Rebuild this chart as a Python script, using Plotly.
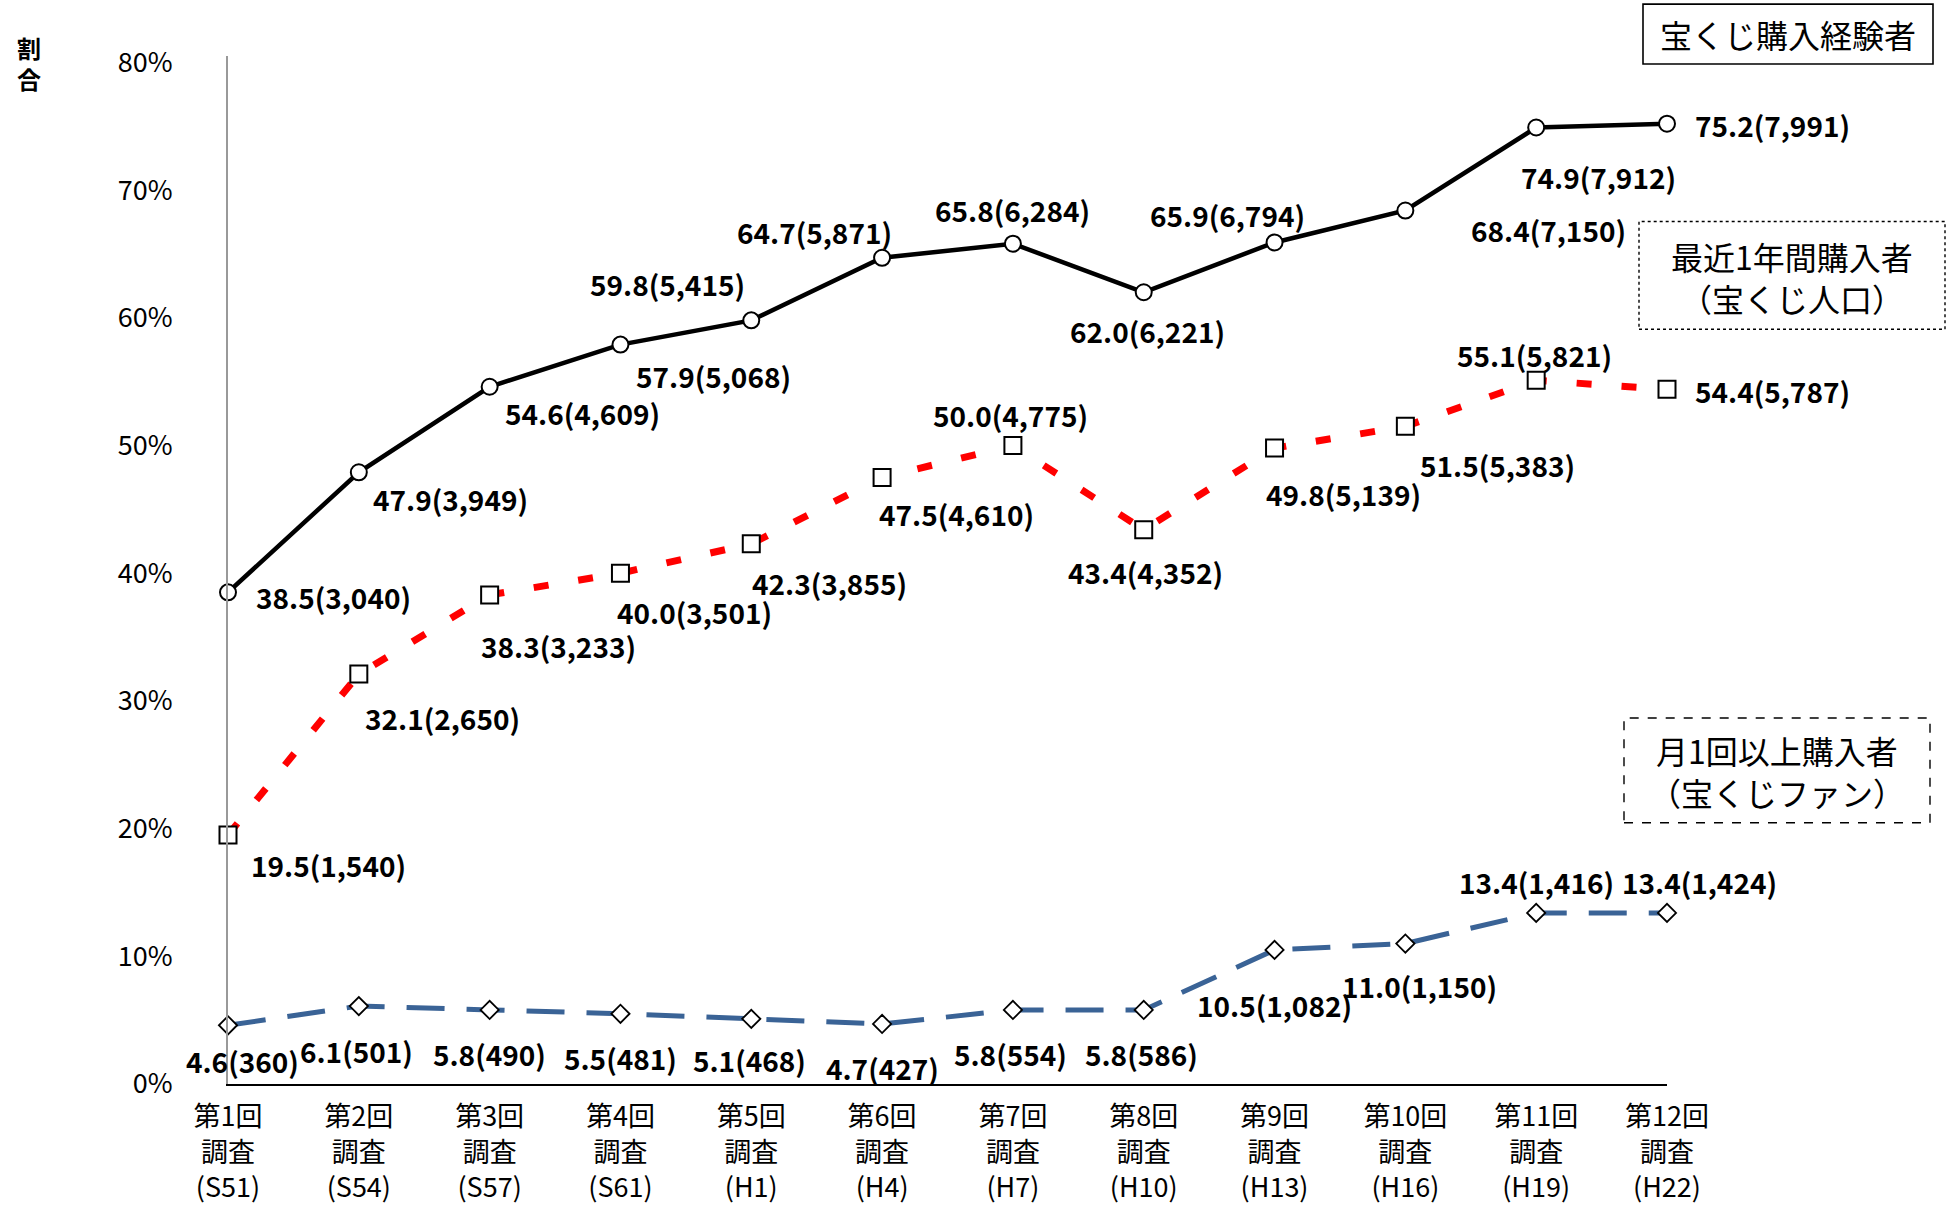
import plotly.graph_objects as go

# ---------------- data ----------------
surveys = ["第1回<br>調査<br>(S51)", "第2回<br>調査<br>(S54)", "第3回<br>調査<br>(S57)", "第4回<br>調査<br>(S61)",
           "第5回<br>調査<br>(H1)", "第6回<br>調査<br>(H4)", "第7回<br>調査<br>(H7)", "第8回<br>調査<br>(H10)",
           "第9回<br>調査<br>(H13)", "第10回<br>調査<br>(H16)", "第11回<br>調査<br>(H19)", "第12回<br>調査<br>(H22)"]

experience_pct = [38.5, 47.9, 54.6, 57.9, 59.8, 64.7, 65.8, 62.0, 65.9, 68.4, 74.9, 75.2]
experience_n = ["3,040", "3,949", "4,609", "5,068", "5,415", "5,871", "6,284", "6,221", "6,794", "7,150", "7,912", "7,991"]

recent_pct = [19.5, 32.1, 38.3, 40.0, 42.3, 47.5, 50.0, 43.4, 49.8, 51.5, 55.1, 54.4]
recent_n = ["1,540", "2,650", "3,233", "3,501", "3,855", "4,610", "4,775", "4,352", "5,139", "5,383", "5,821", "5,787"]

monthly_pct = [4.6, 6.1, 5.8, 5.5, 5.1, 4.7, 5.8, 5.8, 10.5, 11.0, 13.4, 13.4]
monthly_n = ["360", "501", "490", "481", "468", "427", "554", "586", "1,082", "1,150", "1,416", "1,424"]

y_ticks = [0, 10, 20, 30, 40, 50, 60, 70, 80]
y_tick_text = ["0%", "10%", "20%", "30%", "40%", "50%", "60%", "70%", "80%"]
y_title = "割<br>合"

legend_names = [["宝くじ購入経験者"],
                ["最近1年間購入者", "（宝くじ人口）"],
                ["月1回以上購入者", "（宝くじファン）"]]

# ---------------- label offsets (pixels, style only) ----------------
exp_dx = [105, 92, 93, 93, -84, -68, 0, 4, -47, 143, 62, 105]
exp_dy = [5, 27, 26, 31, -36, -26, -34, 39, -27, 19, 49, 1]
rec_dx = [100, 84, 69, 74, 78, 74, -2, 2, 69, 92, -2, 105]
rec_dy = [30, 44, 51, 39, 39, 37, -30, 42, 46, 39, -25, 2]
mon_dx = [14, -2, 0, 0, -2, 0, -2, -2, 0, 14, 0, 32]
mon_dy = [36, 45, 44, 44, 41, 44, 44, 44, 55, 42, -31, -31]

FONT = "Noto Sans CJK JP"
W, H = 1955, 1217
L, R_EDGE = 228, 1667
Y0, YTOP = 1087, 56
YMAX = 80.5

x_idx = list(range(len(surveys)))

fig = go.Figure()

fig.add_trace(go.Scatter(
    x=x_idx, y=experience_pct, mode="lines+markers",
    line=dict(color="black", width=4.5),
    marker=dict(symbol="circle", size=16, color="white", line=dict(color="black", width=2)),
    cliponaxis=False, showlegend=False))

fig.add_trace(go.Scatter(
    x=x_idx, y=recent_pct, mode="lines+markers",
    line=dict(color="#FF0000", width=7, dash="15px,30px"),
    marker=dict(symbol="square", size=17, color="white", line=dict(color="black", width=2)),
    cliponaxis=False, showlegend=False))

fig.add_trace(go.Scatter(
    x=x_idx, y=monthly_pct, mode="lines+markers",
    line=dict(color="#3A6396", width=5, dash="38px,22px"),
    marker=dict(symbol="diamond", size=14, color="white", line=dict(color="black", width=1.8)),
    cliponaxis=False, showlegend=False))

annotations = []
for pct, n, dx, dy in [(experience_pct, experience_n, exp_dx, exp_dy),
                       (recent_pct, recent_n, rec_dx, rec_dy),
                       (monthly_pct, monthly_n, mon_dx, mon_dy)]:
    for i in x_idx:
        annotations.append(dict(
            x=i, y=pct[i], xref="x", yref="y", xanchor="center", yanchor="middle",
            text=f"<b>{pct[i]:.1f}({n[i]})</b>",
            showarrow=False, xshift=dx[i], yshift=-dy[i],
            font=dict(family=FONT, size=28, color="black")))

pw = R_EDGE - L
ph = Y0 - YTOP


def px(xp):
    return (xp - L) / pw


def py(yp):
    return (Y0 - yp) / ph


# y axis title
annotations.append(dict(x=px(29), y=py(63), xref="paper", yref="paper", showarrow=False,
                        xanchor="center", yanchor="middle",
                        text=f"<b>{y_title}</b>", font=dict(family=FONT, size=24, color="black")))

# legend-like boxes
box_rects = [(1643, 4, 1933, 64), (1639, 222, 1945, 330), (1624, 720, 1930, 825)]
box_dash = ["solid", "dot", "dash"]
box_line_y = [[34], [257, 299], [752, 794]]
box_cx = [1788, 1792, 1777]

shapes = []
for b, (x0, y0, x1, y1) in enumerate(box_rects):
    shapes.append(dict(type="rect", xref="paper", yref="paper",
                       x0=px(x0), x1=px(x1), y0=py(y1), y1=py(y0),
                       line=dict(color="black", width=1.6 if box_dash[b] == "solid" else 1.4,
                                 dash=box_dash[b]),
                       fillcolor="white", layer="below"))
    for txt, ly in zip(legend_names[b], box_line_y[b]):
        annotations.append(dict(x=px(box_cx[b]), y=py(ly), xref="paper", yref="paper", showarrow=False,
                                xanchor="center", yanchor="middle",
                                text=txt, font=dict(family=FONT, size=32, color="black")))

fig.update_layout(
    width=W, height=H,
    margin=dict(l=L, r=W - R_EDGE, t=YTOP, b=H - Y0),
    plot_bgcolor="rgba(0,0,0,0)", paper_bgcolor="white",
    font=dict(family=FONT, color="black"),
    annotations=annotations, shapes=shapes,
    xaxis=dict(range=[0, 11], tickmode="array", tickvals=x_idx, ticktext=surveys,
               showgrid=False, zeroline=False, showline=True, linecolor="black", linewidth=2,
               ticks="", ticklabelstandoff=8, tickfont=dict(family=FONT, size=27, color="black")),
    yaxis=dict(range=[0, YMAX], tickmode="array", tickvals=y_ticks, ticktext=y_tick_text,
               showgrid=False, zeroline=False, showline=True, linecolor="#999999", linewidth=2,
               ticks="", ticklabelstandoff=48, tickfont=dict(family=FONT, size=27, color="black")),
)

fig.write_html("out.html", config={"displayModeBar": False},
               post_script="document.body.style.margin='0';")
